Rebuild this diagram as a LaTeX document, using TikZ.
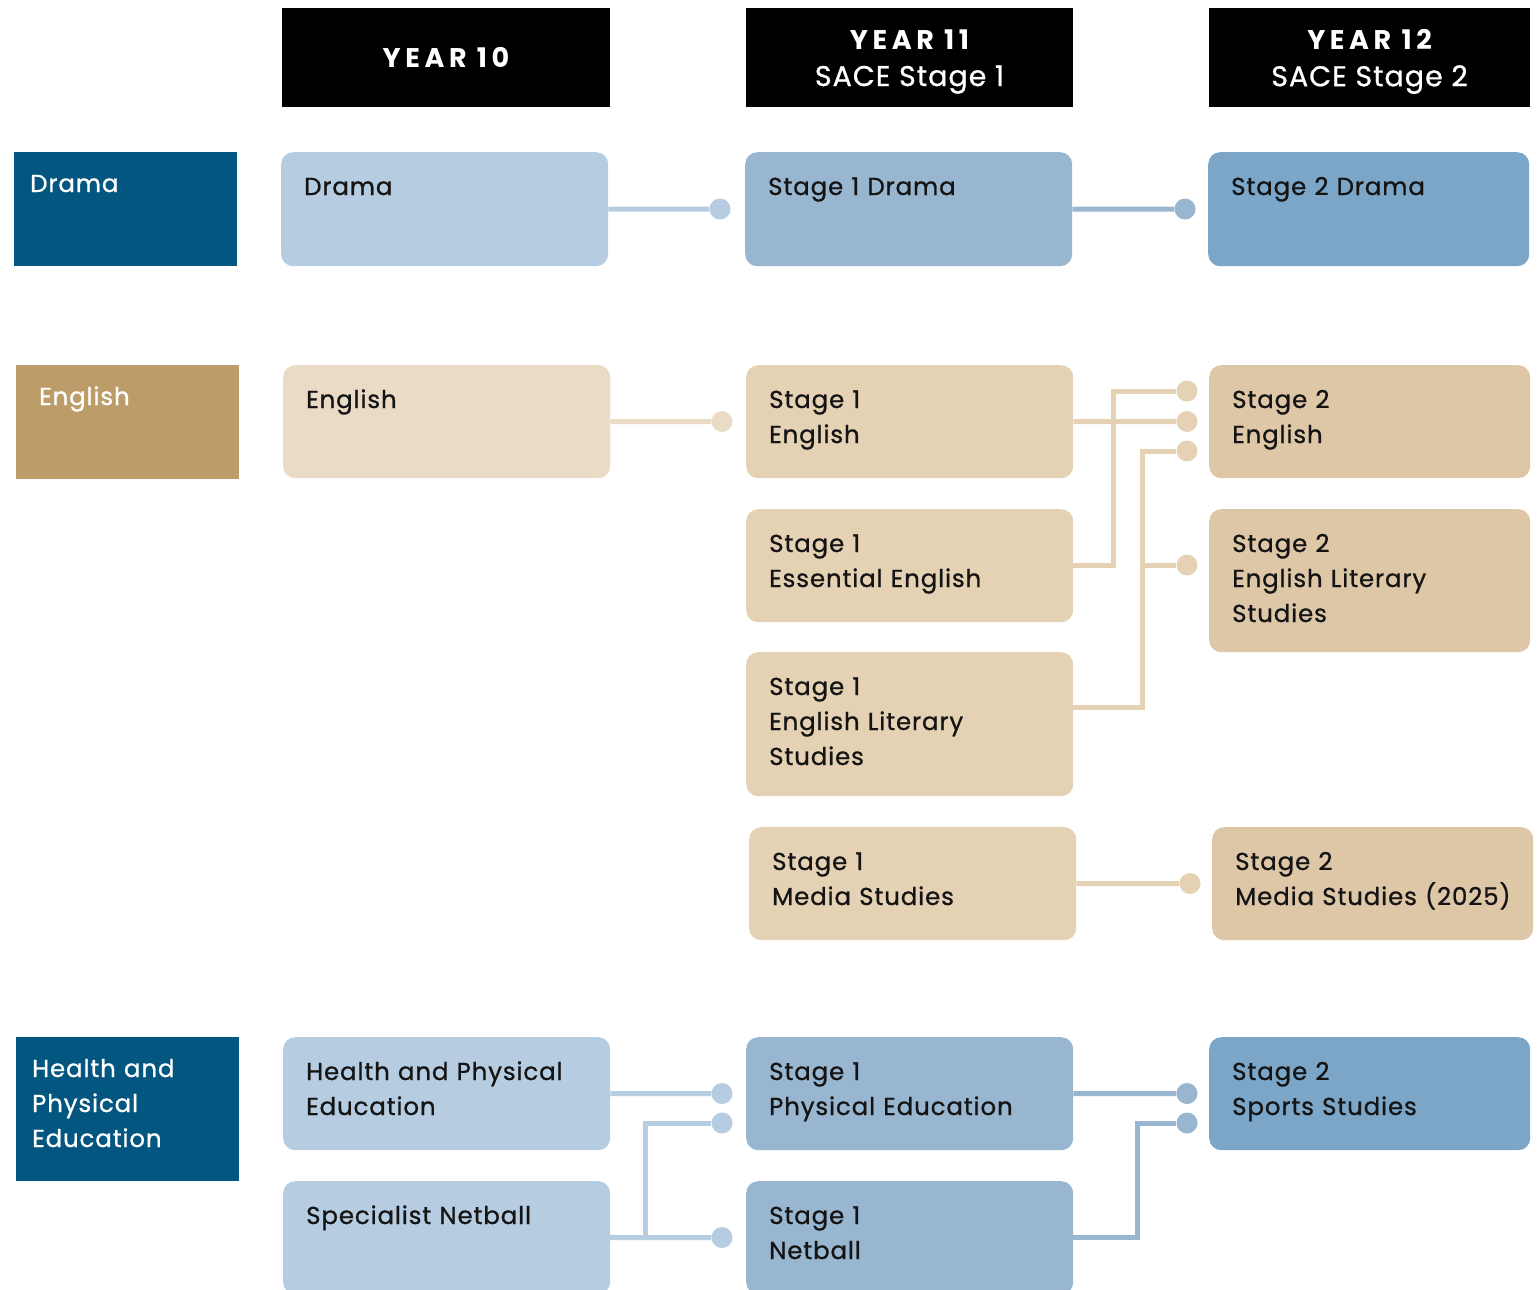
\documentclass[tikz,border=0pt]{standalone}
\usepackage{fontspec}
\setmainfont{Poppins}[FakeBold=0.8,LetterSpace=3.5]
\newfontfamily\headfont{Poppins}[LetterSpace=17]
\usetikzlibrary{positioning,calc}
\definecolor{catblue}{HTML}{02567F}
\definecolor{cattan}{HTML}{BC9D6A}
\definecolor{blueA}{HTML}{B5CCE1}
\definecolor{blueB}{HTML}{98B6D0}
\definecolor{blueC}{HTML}{7BA6C7}
\definecolor{tanA}{HTML}{EADBC7}
\definecolor{tanB}{HTML}{E5D2B5}
\definecolor{tanC}{HTML}{DDC7A7}
\definecolor{ink}{HTML}{141414}
% course box: style, name, x, y, height, text
\newcommand{\course}[6]{
  \node [#1,minimum height=#5] (#2) at (#3,#4) {};
  \node [txt] (#2-t) at ($(#2.north west)+(23,43)$) {#6};}
% subject box: colour, name, x, y, height, inset, text
\newcommand{\subject}[7]{
  \node [cat,fill=#1,minimum height=#5] (#2) at (#3,#4) {};
  \node [txt,text=white] (#2-t) at ($(#2.north west)+(#6,40)$) {#7};}
% year header: name, x, width, text
\newcommand{\header}[4]{
  \node [hdr,minimum width=#3] (#1) at (#2,57.5) {};
  \node [hdrtxt] (#1-t) at ($(#1.center)+(0,4)$) {#4};}
\newcommand{\yr}[1]{{\headfont\bfseries\fontsize{27}{37}\selectfont #1}}

\begin{document}
\begin{tikzpicture}
[x=1pt,y=-1pt,
cbox/.style={shape=rectangle,rounded corners=12pt,minimum width=327,
  inner sep=0,anchor=north west},
yrA/.style={cbox,fill=blueA},
yrB/.style={cbox,fill=blueB},
yrC/.style={cbox,fill=blueC,minimum width=321},
tnA/.style={cbox,fill=tanA},
tnB/.style={cbox,fill=tanB},
tnC/.style={cbox,fill=tanC,minimum width=321},
cat/.style={shape=rectangle,minimum width=223,inner sep=0,anchor=north west},
hdr/.style={shape=rectangle,fill=black,minimum height=99,inner sep=0},
hdrtxt/.style={inner sep=0,text=white,align=center,
  font=\fontsize{28.5}{37}\selectfont},
txt/.style={anchor=base west,text width=330,align=left,inner sep=0,
  text=ink,font=\fontsize{24.5}{35}\selectfont},
pin/.style={circle,inner sep=0,minimum size=21},
wire/.style={line width=5}]
\useasboundingbox (0,0) rectangle (1539,1290);
\clip (0,0) rectangle (1539,1290);

% year headers
\node [hdr,minimum width=328] (h10) at (446,57.5) {};
\node [hdrtxt] (h10-t) at (h10.center) {\yr{YEAR 10}};
\header{h11}{909.5}{327}{\yr{YEAR 11}\\SACE Stage 1}
\header{h12}{1369.5}{321}{\yr{YEAR 12}\\SACE Stage 2}

% subjects
\subject{catblue}{c-drama}{14}{152}{114}{16}{Drama}
\subject{cattan}{c-eng}{16}{365}{114}{23}{English}
\subject{catblue}{c-hpe}{16}{1037}{144}{16}{Health and\\Physical\\Education}

% year 10
\course{yrA}{y10drama}{281}{152}{114}{Drama}
\course{tnA}{y10eng}{283}{365}{113}{English}
\course{yrA}{y10hpe}{283}{1037}{113}{Health and Physical\\Education}
\course{yrA}{y10net}{283}{1181}{113}{Specialist Netball}

% stage 1
\course{yrB}{s1drama}{745}{152}{114}{Stage 1 Drama}
\course{tnB}{s1eng}{746}{365}{113}{Stage 1\\English}
\course{tnB}{s1ess}{746}{509}{113}{Stage 1\\Essential English}
\course{tnB}{s1lit}{746}{652}{144}{Stage 1\\English Literary\\Studies}
\course{tnB}{s1media}{749}{827}{113}{Stage 1\\Media Studies}
\course{yrB}{s1pe}{746}{1037}{113}{Stage 1\\Physical Education}
\course{yrB}{s1net}{746}{1181}{113}{Stage 1\\Netball}

% stage 2
\course{yrC}{s2drama}{1208}{152}{114}{Stage 2 Drama}
\course{tnC}{s2eng}{1209}{365}{113}{Stage 2\\English}
\course{tnC}{s2lit}{1209}{509}{143}{Stage 2\\English Literary\\Studies}
\course{tnC}{s2media}{1212}{827}{113}{Stage 2\\Media Studies (2025)}
\course{yrC}{s2sport}{1209}{1037}{113}{Stage 2\\Sports Studies}

% drama links
\node [pin,fill=blueA] (p-drama1) at (720,209) {};
\draw [wire,blueA] (y10drama.east) -- (p-drama1);
\node [pin,fill=blueB] (p-drama2) at (1185,209) {};
\draw [wire,blueB] (s1drama.east) -- (p-drama2);

% english links
\node [pin,fill=tanA] (p-eng1) at (722,421.5) {};
\draw [wire,tanA] (y10eng.east) -- (p-eng1);
\node [pin,fill=tanB] (p-eng2a) at (1187,391) {};
\node [pin,fill=tanB] (p-eng2b) at (1187,421.5) {};
\node [pin,fill=tanB] (p-eng2c) at (1187,451) {};
\node [pin,fill=tanB] (p-lit2) at (1187,565) {};
\draw [wire,tanB] (s1eng.east) -- (p-eng2b);
\draw [wire,tanB] (s1ess.east) -- ++(40,0) |- (p-eng2a);
\draw [wire,tanB] ([yshift=17pt]s1lit.east) -- ++(69,0)
    coordinate (litx) |- (p-eng2c);
\draw [wire,tanB] (litx |- p-lit2) -- (p-lit2);
\node [pin,fill=tanB] (p-media2) at (1190,883.5) {};
\draw [wire,tanB] (s1media.east) -- (p-media2);

% health links
\node [pin,fill=blueA] (p-pe1) at (722,1093.5) {};
\node [pin,fill=blueA] (p-pe1b) at (722,1123) {};
\node [pin,fill=blueA] (p-net1) at (722,1237.5) {};
\draw [wire,blueA] (y10hpe.east) -- (p-pe1);
\draw [wire,blueA] (y10net.east) -- (p-net1);
\draw [wire,blueA] (y10net.east) -- ++(35,0) |- (p-pe1b);
\node [pin,fill=blueB] (p-sport2a) at (1187,1093.5) {};
\node [pin,fill=blueB] (p-sport2b) at (1187,1123) {};
\draw [wire,blueB] (s1pe.east) -- (p-sport2a);
\draw [wire,blueB] (s1net.east) -- ++(64,0) |- (p-sport2b);
\end{tikzpicture}
\end{document}
